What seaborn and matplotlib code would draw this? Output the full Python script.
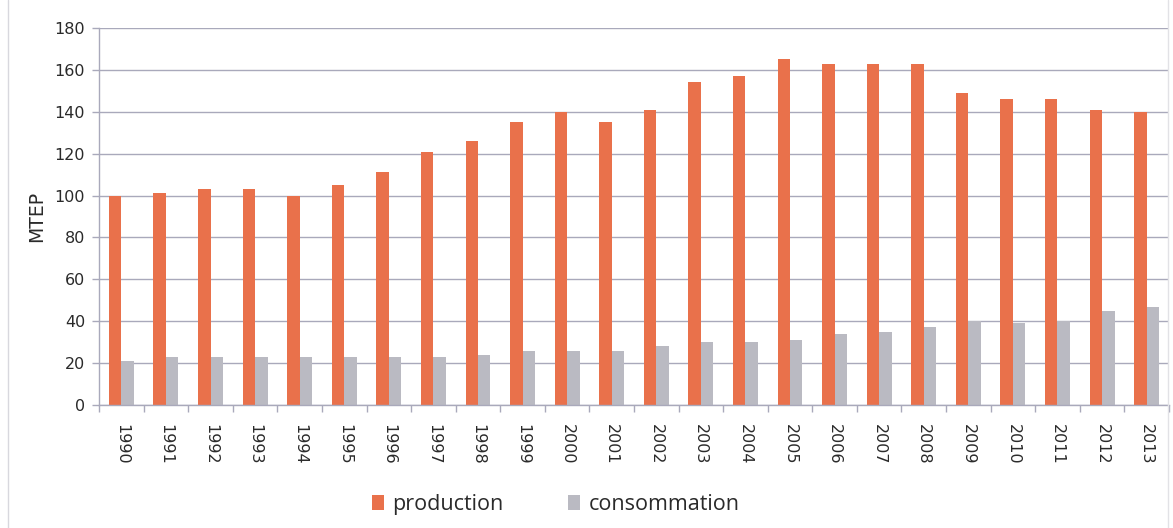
import matplotlib
matplotlib.use("Agg")
import matplotlib.pyplot as plt
from matplotlib.lines import Line2D
from matplotlib.patches import Patch
import numpy as np
import pandas as pd
import seaborn as sns

years = [str(y) for y in range(1990, 2014)]
production = [100, 101, 103, 103, 100, 105, 111, 121, 126, 135, 140, 135,
              141, 154, 157, 165, 163, 163, 163, 149, 146, 146, 141, 140]
consommation = [21, 23, 23, 23, 23, 23, 23, 23, 24, 26, 26, 26,
                28, 30, 30, 31, 34, 35, 37, 40, 39, 40, 45, 47]
series = ["production", "consommation"]
colors = ["#E9714B", "#BABAC2"]
yticks = [0, 20, 40, 60, 80, 100, 120, 140, 160, 180]

df = pd.DataFrame({
    "annee": years * 2,
    "valeur": production + consommation,
    "serie": [series[0]] * len(years) + [series[1]] * len(years),
})

sns.set_theme(style="white")
plt.rcParams["font.family"] = ["DejaVu Sans"]

fig = plt.figure(figsize=(11.73, 5.28), dpi=100)
ax = fig.add_axes([0.0845, 0.233, 0.912, 0.714])

sns.barplot(data=df, x="annee", y="valeur", hue="serie", palette=colors,
            width=0.56, gap=0, saturation=1, linewidth=0, ax=ax, legend=False)

ax.set_ylim(0, 180)
ax.set_xlim(-0.5, len(years) - 0.5)
ax.set_yticks(yticks)
ax.set_yticklabels([str(v) for v in yticks], fontsize=11.5, color="#2A2A2A")
ax.grid(axis="y", color="#A9A9BB", linewidth=1.0)
ax.set_axisbelow(True)

ax.set_xticks(range(len(years)))
ax.set_xticklabels(years, rotation=-90, fontsize=11.5, color="#2A2A2A")
ax.set_xticks(np.arange(-0.5, len(years), 1.0), minor=True)
ax.tick_params(axis="x", which="major", length=0, pad=14)
ax.tick_params(axis="x", which="minor", length=5, width=1, color="#A9A9BB",
               direction="out", bottom=True)
ax.tick_params(axis="y", length=5, width=1, color="#A9A9BB", left=True, pad=5)

ax.set_xlabel("")
ax.set_ylabel("MTEP", fontsize=13.5, color="#2A2A2A", labelpad=6)

for side in ["top", "right"]:
    ax.spines[side].set_visible(False)
for side in ["left", "bottom"]:
    ax.spines[side].set_color("#A9A9BB")
    ax.spines[side].set_linewidth(1.0)

# chart frame edges
fig.add_artist(Line2D([0.007, 0.007], [0.0, 1.0], color="#D8D8DE", lw=1.0))
fig.add_artist(Line2D([0.996, 0.996], [0.0, 1.0], color="#E2E2E6", lw=1.0))

legend_font = {"family": ["Open Sans", "DejaVu Sans"], "size": 15.5}
handles = [Patch(facecolor=c, edgecolor="none") for c in colors]
fig.legend(handles, series, loc="center", bbox_to_anchor=(0.474, 0.044), ncol=2,
           frameon=False, prop=legend_font, handlelength=0.55, handleheight=0.7,
           handletextpad=0.4, columnspacing=3.0, labelcolor="#2A2A2A")

fig.savefig("out.png", dpi=100)
